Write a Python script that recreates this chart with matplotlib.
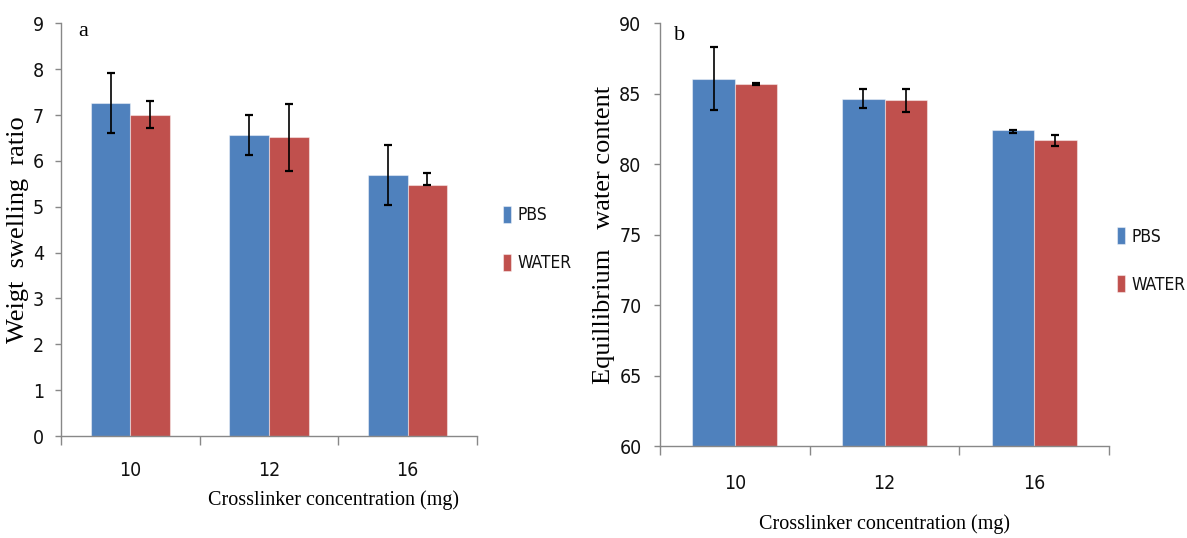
import matplotlib
matplotlib.use("Agg")
import matplotlib.pyplot as plt
from matplotlib import font_manager as fm
import numpy as np

# ---- data -------------------------------------------------------------
categories = ["10", "12", "16"]
series_names = ["PBS", "WATER"]

# (a) weight swelling ratio
swell_pbs = [7.27, 6.56, 5.69]
swell_pbs_err_lo = [0.65, 0.44, 0.65]
swell_pbs_err_hi = [0.65, 0.44, 0.65]
swell_water = [7.01, 6.52, 5.48]
swell_water_err_lo = [0.29, 0.73, 0.0]
swell_water_err_hi = [0.29, 0.73, 0.25]

# (b) equilibrium water content
ewc_pbs = [86.08, 84.66, 82.40]
ewc_pbs_err_lo = [2.23, 0.66, 0.18]
ewc_pbs_err_hi = [2.23, 0.66, 0.0]
ewc_water = [85.69, 84.54, 81.69]
ewc_water_err_lo = [0.05, 0.80, 0.36]
ewc_water_err_hi = [0.05, 0.80, 0.36]

swell_ticks = list(range(0, 10))
ewc_ticks = [60, 65, 70, 75, 80, 85, 90]

# ---- fonts ------------------------------------------------------------
available = {f.name for f in fm.fontManager.ttflist}
narrow = None
for f in fm.fontManager.ttflist:
    low = f.fname.lower()
    if ("narrow" in low or "condensed" in low) and "bold" not in low and "oblique" not in low and "italic" not in low:
        narrow = f
        break

if narrow is not None:
    tick_size, legend_size = 14, 12.5
    SANS = fm.FontProperties(fname=narrow.fname, size=tick_size)
    LEG = fm.FontProperties(fname=narrow.fname, size=legend_size)
else:
    tick_size, legend_size = 10.5, 9.5
    SANS = fm.FontProperties(family="DejaVu Sans", size=tick_size)
    LEG = fm.FontProperties(family="DejaVu Sans", size=legend_size)
SERIF = "Liberation Serif" if "Liberation Serif" in available else "DejaVu Serif"

BLUE = "#4F81BD"
RED = "#C0504D"
SPINE = "#888888"

W, H = 1187, 538
fig = plt.figure(figsize=(W / 100, H / 100), dpi=100)


def px_axes(x0, y0, x1, y1):
    return fig.add_axes([x0 / W, 1 - y1 / H, (x1 - x0) / W, (y1 - y0) / H])


def draw_panel(ax, pbs, pbs_lo, pbs_hi, water, water_lo, water_hi,
               ylim, yticks, ylabel, ylabel_x, xlabel_xy, letter_xy, letter,
               xtick_pad, ytick_pad, legend_xy):
    x = np.arange(len(categories))
    w = 0.285
    b1 = ax.bar(x - w / 2, np.array(pbs) - ylim[0], w, bottom=ylim[0], color=BLUE,
                edgecolor=(1, 1, 1, 0.45), linewidth=0.8, label=series_names[0], zorder=2)
    b2 = ax.bar(x + w / 2, np.array(water) - ylim[0], w, bottom=ylim[0], color=RED,
                edgecolor=(1, 1, 1, 0.45), linewidth=0.8, label=series_names[1], zorder=2)
    ax.errorbar(x - w / 2, pbs, yerr=[pbs_lo, pbs_hi], fmt="none", ecolor="black",
                elinewidth=1.2, capsize=3.2, capthick=1.6, zorder=3)
    ax.errorbar(x + w / 2, water, yerr=[water_lo, water_hi], fmt="none", ecolor="black",
                elinewidth=1.2, capsize=3.2, capthick=1.6, zorder=3)

    ax.set_xlim(-0.5, len(categories) - 0.5)
    ax.set_ylim(*ylim)
    ax.set_yticks(yticks)
    ax.set_yticklabels([str(t) for t in yticks])

    # boundaries get the tick marks, category centres get the labels
    ax.set_xticks(np.arange(len(categories) + 1) - 0.5)
    ax.set_xticklabels([])
    ax.set_xticks(x, minor=True)
    ax.set_xticklabels(categories, minor=True)
    ax.tick_params(axis="x", which="major", direction="out", length=6.5, width=1, color=SPINE)
    ax.tick_params(axis="x", which="minor", length=0, pad=xtick_pad)
    ax.tick_params(axis="y", direction="out", length=4.3, width=1, color=SPINE, pad=ytick_pad)
    for lab in ax.get_xticklabels(minor=True) + ax.get_yticklabels():
        lab.set_fontproperties(SANS)
        lab.set_color("#111111")

    for s in ("top", "right"):
        ax.spines[s].set_visible(False)
    for s in ("left", "bottom"):
        ax.spines[s].set_color(SPINE)
        ax.spines[s].set_linewidth(1.0)

    ax.set_ylabel(ylabel, family=SERIF, fontsize=19)
    ax.yaxis.set_label_coords(ylabel_x, 0.5)
    ax.set_xlabel("Crosslinker concentration (mg)", family=SERIF, fontsize=14.5)
    ax.xaxis.set_label_coords(*xlabel_xy)

    ax.text(letter_xy[0], letter_xy[1], letter, transform=fig.transFigure,
            family=SERIF, fontsize=16, ha="left", va="baseline")

    leg = ax.legend(handles=[b1, b2], loc="center left", bbox_to_anchor=legend_xy,
                    bbox_transform=fig.transFigure, frameon=False, borderpad=0,
                    borderaxespad=0, handlelength=0.46, handleheight=1.13,
                    handletextpad=0.35, labelspacing=1.7, prop=LEG)
    for t in leg.get_texts():
        t.set_color("#111111")


ax1 = px_axes(61, 23.4, 477, 436)
draw_panel(ax1, swell_pbs, swell_pbs_err_lo, swell_pbs_err_hi,
           swell_water, swell_water_err_lo, swell_water_err_hi,
           (0, 9), swell_ticks, "Weigt  swelling  ratio", -0.077,
           ((333 - 61) / 416, -0.131), (78.5 / W, 1 - 36 / H), "a",
           18, 8, (503 / W, 1 - 239 / H))

ax2 = px_axes(660, 23.4, 1109, 446)
draw_panel(ax2, ewc_pbs, ewc_pbs_err_lo, ewc_pbs_err_hi,
           ewc_water, ewc_water_err_lo, ewc_water_err_hi,
           (60, 90), ewc_ticks, "Equillibrium   water content", -0.1,
           (0.5, -0.161), (674 / W, 1 - 40 / H), "b",
           20, 9, (1117 / W, 1 - 260.5 / H))

fig.savefig("out.png", dpi=100)
